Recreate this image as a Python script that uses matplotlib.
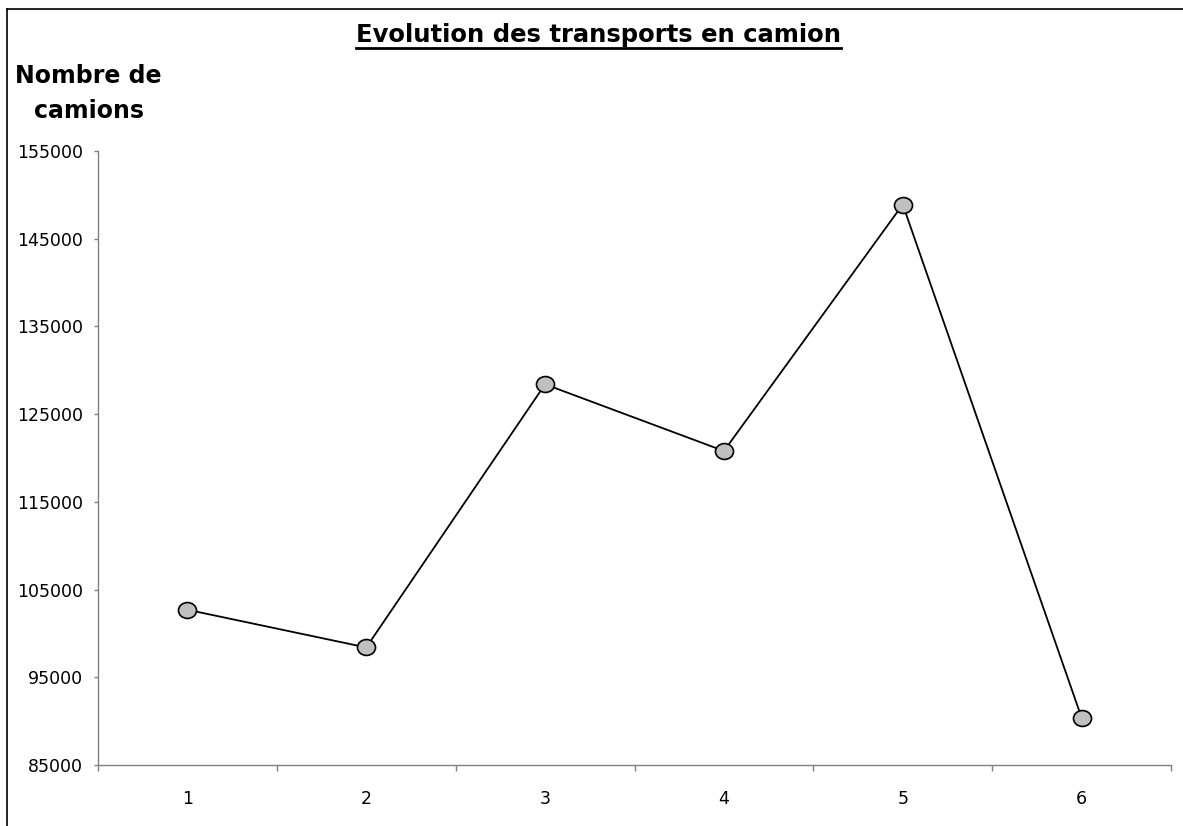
import matplotlib
matplotlib.use("Agg")
import matplotlib.pyplot as plt
from matplotlib.lines import Line2D
from matplotlib.path import Path
import numpy as np

plt.rcParams['font.family'] = ['DejaVu Sans']

# donnees
periodes = [1, 2, 3, 4, 5, 6]
camions = [102700, 98400, 128400, 120800, 148900, 90400]
yticks = [85000, 95000, 105000, 115000, 125000, 135000, 145000, 155000]

fig = plt.figure(figsize=(11.83, 8.26), dpi=100)
ax = fig.add_axes([98 / 1183, 1 - 765 / 826, (1171 - 98) / 1183, (765 - 151) / 826])

# marqueur ovale (style Excel)
circ = Path.unit_circle()
oval = Path(circ.vertices * np.array([1.0, 0.88]), circ.codes)

ax.plot(periodes, camions, color='black', lw=1.3, marker=oval, ms=13,
        markerfacecolor='#c0c0c0', markeredgecolor='black', markeredgewidth=1.2,
        zorder=3)

ax.set_xlim(0.5, 6.5)
ax.set_ylim(85000, 155000)
ax.set_yticks(yticks)
ax.set_yticklabels([str(v) for v in yticks])

# ticks aux bornes des categories, libelles au centre
ax.set_xticks(np.arange(0.5, 7.0, 1.0))
ax.set_xticklabels([])
ax.set_xticks(periodes, minor=True)
ax.set_xticklabels([str(p) for p in periodes], minor=True)
ax.tick_params(axis='x', which='major', direction='out', length=4.5, width=1, color='#808080')
ax.tick_params(axis='x', which='minor', length=0, pad=18, labelsize=12.5)
ax.tick_params(axis='y', direction='out', length=3, width=1, color='#808080', pad=8, labelsize=12.5)

for s in ['top', 'right']:
    ax.spines[s].set_visible(False)
for s in ['left', 'bottom']:
    ax.spines[s].set_color('#808080')
    ax.spines[s].set_linewidth(1)

titre = fig.text(598.5 / 1183, 1 - 42 / 826, 'Evolution des transports en camion', ha='center',
                 va='baseline', fontsize=17.5, fontweight='bold')

fig.text(88.5 / 1183, 1 - 83 / 826, 'Nombre de', ha='center', va='baseline',
         fontsize=17, fontweight='bold')
fig.text(89.5 / 1183, 1 - 118 / 826, 'camions', ha='center', va='baseline',
         fontsize=17, fontweight='bold')

# soulignement du titre, sur la largeur du texte
fig.canvas.draw()
bb = titre.get_window_extent().transformed(fig.transFigure.inverted())
fig.add_artist(Line2D([bb.x0, bb.x1], [1 - 48 / 826, 1 - 48 / 826], color='black', lw=2))

# cadre du graphique
fig.add_artist(Line2D([7 / 1183, 7 / 1183], [0, 1 - 9 / 826], color='black', lw=1.2))
fig.add_artist(Line2D([7 / 1183, 1], [1 - 9 / 826, 1 - 9 / 826], color='black', lw=1.2))

fig.savefig('out.png', dpi=100)
